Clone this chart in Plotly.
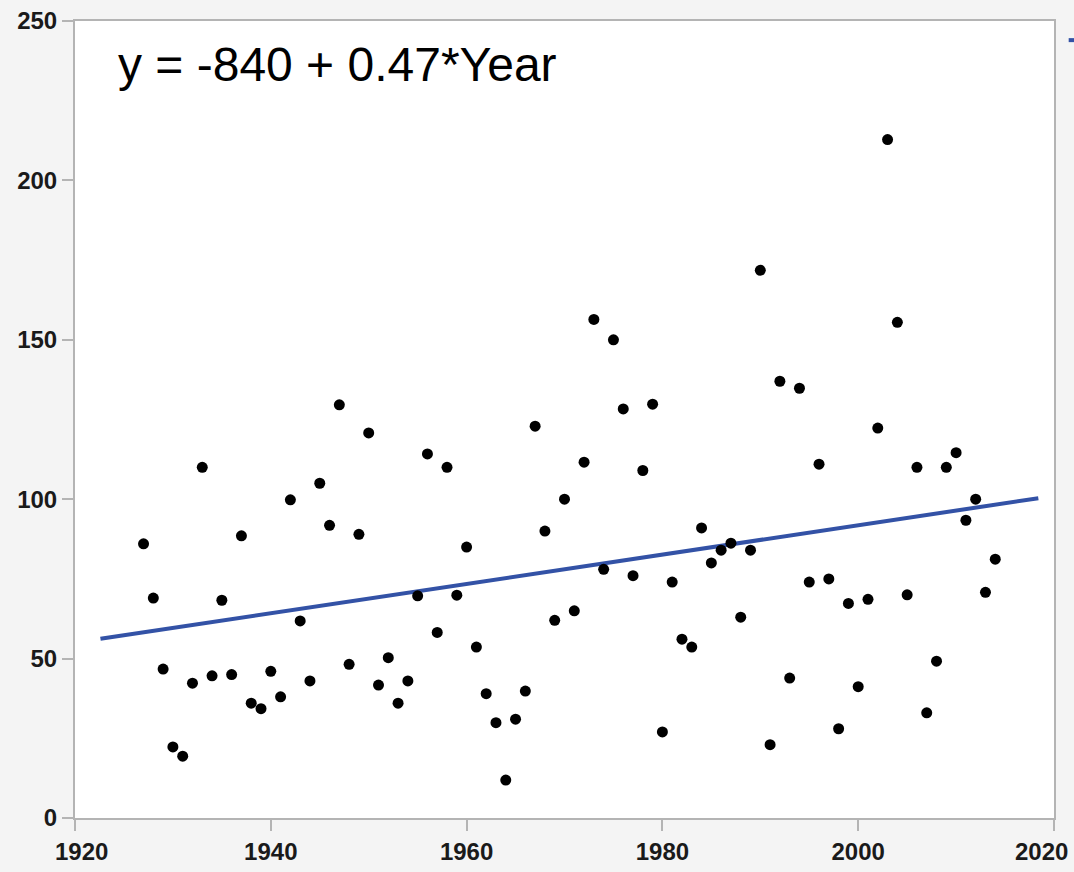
import plotly.graph_objects as go

years = list(range(1927, 2015))
values = [
    86, 69, 46.7, 22.3, 19.4, 42.3, 110, 44.6, 68.3, 45,
    88.5, 36, 34.3, 46, 38, 99.8, 61.8, 43, 105, 91.8,
    129.6, 48.2, 89, 120.8, 41.7, 50.3, 36, 43, 69.7, 114.2,
    58.2, 110, 69.9, 85, 53.6, 39, 29.9, 11.9, 31, 39.8,
    122.9, 90, 62, 100, 65, 111.6, 156.4, 78, 150, 128.3,
    76, 109, 129.8, 27, 74, 56.1, 53.6, 91, 80, 84,
    86.2, 63, 84, 171.8, 23, 137, 43.9, 134.8, 74, 111,
    75, 28, 67.3, 41.2, 68.6, 122.3, 212.8, 155.5, 70, 110,
    33, 49.2, 110, 114.6, 93.4, 100, 70.8, 81.2,
]
fit_years = [1922.6, 2018.4]
fit_values = [56.2, 100.3]

x_ticks = [1920, 1940, 1960, 1980, 2000, 2020]
x_tick_labels = ["\u00a0\u00a01920", "1940", "1960", "1980", "2000", ""]
last_x_label = "2020"
y_ticks = [0, 50, 100, 150, 200, 250]
equation = "y = -840 + 0.47*Year"

tick_font = dict(family="Liberation Sans, Arial", size=24, color="#1a1a1a", weight="bold")

fig = go.Figure()
fig.add_trace(go.Scatter(
    x=fit_years, y=fit_values, mode="lines",
    line=dict(color="#3352a6", width=4), showlegend=False, hoverinfo="skip",
))
fig.add_trace(go.Scatter(
    x=years, y=values, mode="markers",
    marker=dict(color="black", size=11), showlegend=False,
))

axis_common = dict(
    showgrid=False, zeroline=False, showline=True, mirror=True,
    linecolor="#b4b4b4", linewidth=2, ticks="outside", ticklen=11,
    tickcolor="#b4b4b4", tickwidth=2, automargin=False, ticklabeloverflow="allow",
    tickfont=tick_font,
)
fig.update_xaxes(range=[1920, 2020], tickvals=x_ticks, ticktext=x_tick_labels,
                 **axis_common)
fig.update_yaxes(range=[0, 250], tickvals=y_ticks, ticktext=[str(v) for v in y_ticks],
                 **axis_common)

# last x tick label, nudged inward to stay inside the page as in the reference
fig.add_annotation(
    x=1.0165, y=-0.0425, xref="paper", yref="paper", xanchor="right", yanchor="middle",
    text=last_x_label, showarrow=False, font=tick_font,
)

fig.add_annotation(
    x=0.042, y=0.945, xref="paper", yref="paper", xanchor="left", yanchor="middle",
    text=equation, showarrow=False,
    font=dict(family="Liberation Sans, Arial", size=48, color="black"),
)
fig.add_shape(type="line", xref="paper", yref="paper", x0=1.015, x1=1.04, y0=0.976, y1=0.976,
              line=dict(color="#3352a6", width=4))

fig.update_layout(
    width=1074, height=872,
    margin=dict(l=75, r=20, t=21, b=54),
    paper_bgcolor="#f4f4f4", plot_bgcolor="white",
)
fig.write_html(
    "out.html",
    config={"displayModeBar": False},
    post_script="document.body.style.margin='0';document.body.style.background='#f4f4f4';",
)
